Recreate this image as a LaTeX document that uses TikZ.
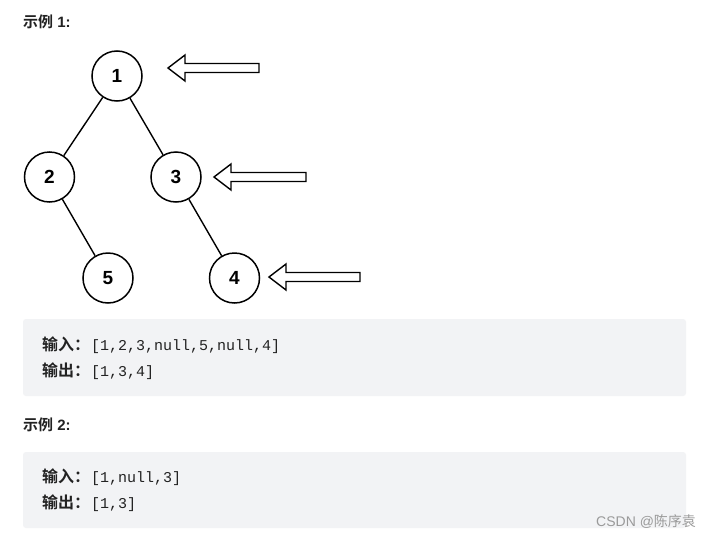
\documentclass[tikz,border=0pt]{standalone}
\usepackage{fontspec}
\setmainfont{Liberation Sans}
\newfontfamily\cjk{Noto Sans CJK SC}[BoldFont={Noto Sans CJK SC Bold}]
\newfontfamily\codefont{Liberation Mono}
\definecolor{boxbg}{HTML}{F2F3F5}
\definecolor{txt}{HTML}{222222}
\definecolor{wm}{HTML}{9A9A9A}
\begin{document}
\begin{tikzpicture}[x=1pt,y=-1pt,
  tnode/.style={circle,draw=black,line width=1.5pt,fill=white,minimum size=50pt,inner sep=0pt,
    font=\fontsize{19}{21}\selectfont\bfseries},
  tedge/.style={line width=1.4pt},
  blockarrow/.style={draw=black,line width=1.4pt,fill=white,line join=miter},
  codebox/.style={fill=boxbg,rounded corners=3pt},
  head/.style={anchor=west,inner sep=0pt,text=txt,font=\fontsize{15}{17}\selectfont\bfseries},
  code/.style={anchor=west,inner sep=0pt,text=txt,font=\fontsize{16}{18}\selectfont}
]
\useasboundingbox[fill=white] (0,0) rectangle (711,538);

% heading 1
\node[head] (h1) at (23,22) {{\cjk 示例} 1:};

% tree
\node[tnode] (n1) at (117,76) {1};
\node[tnode] (n2) at (49.5,177) {2};
\node[tnode] (n3) at (176,177) {3};
\node[tnode] (n5) at (108,278) {5};
\node[tnode] (n4) at (234.5,278) {4};
\draw[tedge] (n1) -- (n2);
\draw[tedge] (n1) -- (n3);
\draw[tedge] (n2) -- (n5);
\draw[tedge] (n3) -- (n4);

% block arrows
\draw[blockarrow] (168,68) -- (185,55) -- (185,63.5) -- (259,63.5) -- (259,72.5) -- (185,72.5) -- (185,81) -- cycle;
\draw[blockarrow] (214,177) -- (231,164) -- (231,172.5) -- (306,172.5) -- (306,181.5) -- (231,181.5) -- (231,190) -- cycle;
\draw[blockarrow] (269,277) -- (286,264) -- (286,272.5) -- (360,272.5) -- (360,281.5) -- (286,281.5) -- (286,290) -- cycle;

% example 1 box
\fill[codebox] (23,319) rectangle (686,396);
\node[code] (in1) at (42,345) {{\cjk\bfseries 输入：}\hspace{1pt}{\codefont\fontsize{15}{17}\selectfont[1,2,3,null,5,null,4]}};
\node[code] (out1) at (42,371) {{\cjk\bfseries 输出：}\hspace{1pt}{\codefont\fontsize{15}{17}\selectfont[1,3,4]}};

% heading 2
\node[head] (h2) at (23,425) {{\cjk 示例} 2:};

% example 2 box
\fill[codebox] (23,452) rectangle (686,528);
\node[code] (in2) at (42,477) {{\cjk\bfseries 输入：}\hspace{1pt}{\codefont\fontsize{15}{17}\selectfont[1,null,3]}};
\node[code] (out2) at (42,503) {{\cjk\bfseries 输出：}\hspace{1pt}{\codefont\fontsize{15}{17}\selectfont[1,3]}};

% watermark
\node[anchor=west,inner sep=0pt,text=wm,font=\fontsize{14}{16}\selectfont] (wmk) at (596,522) {CSDN @{\cjk 陈序袁}};
\end{tikzpicture}
\end{document}
